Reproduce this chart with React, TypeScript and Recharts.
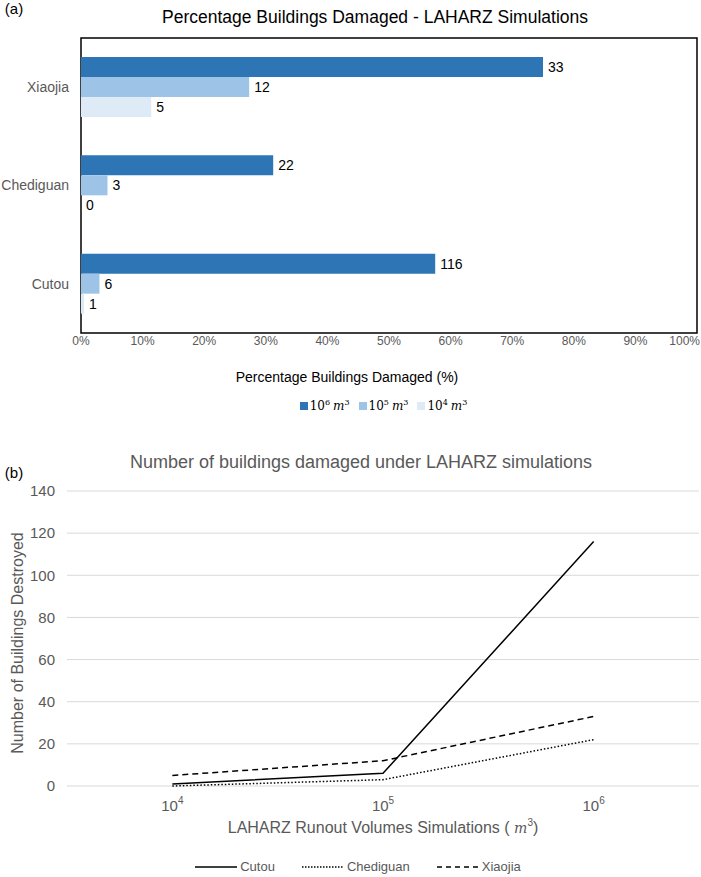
import {
  Bar,
  BarChart,
  CartesianGrid,
  LabelList,
  Legend,
  Line,
  LineChart,
  ReferenceArea,
  XAxis,
  YAxis,
} from "recharts";

// (a) percentage of buildings damaged per site, labels are building counts
const sites = ["Xiaojia", "Chediguan", "Cutou"];
const pct1e6 = [75.0, 31.2, 57.5];
const pct1e5 = [27.3, 4.3, 3.0];
const pct1e4 = [11.4, 0, 0.5];
const count1e6 = [33, 22, 116];
const count1e5 = [12, 3, 6];
const count1e4 = [5, 0, 1];
const pctTicks = [0, 10, 20, 30, 40, 50, 60, 70, 80, 90, 100];

// (b) number of buildings destroyed vs runout volume
const volumes = [1e4, 1e5, 1e6];
const cutou = [1, 6, 116];
const chediguan = [0, 3, 22];
const xiaojia = [5, 12, 33];
const countTicks = [0, 20, 40, 60, 80, 100, 120, 140];

const barRows = sites.map((site, i) => ({
  site,
  v6: pct1e6[i],
  v5: pct1e5[i],
  v4: pct1e4[i],
  n6: String(count1e6[i]),
  n5: String(count1e5[i]),
  n4: String(count1e4[i]),
}));

const lineRows = volumes.map((vol, i) => ({
  vol,
  cutou: cutou[i],
  chediguan: chediguan[i],
  xiaojia: xiaojia[i],
}));

const BLUE_DARK = "#2E75B6";
const BLUE_MID = "#9DC3E6";
const BLUE_LIGHT = "#DEEBF7";
const GREY = "#595959";

const abs = (left: number, top: number, extra: React.CSSProperties = {}): React.CSSProperties => ({
  position: "absolute",
  left,
  top,
  transform: "translate(-50%, -50%)",
  whiteSpace: "nowrap",
  lineHeight: 1,
  ...extra,
});

const volumeItems = [
  { color: BLUE_DARK, exp: "6" },
  { color: BLUE_MID, exp: "5" },
  { color: BLUE_LIGHT, exp: "4" },
];

const BarLegend = () => (
  <div style={{ display: "flex", justifyContent: "center", gap: 9, paddingLeft: 66 }}>
    {volumeItems.map((it) => (
      <span key={it.exp} style={{ display: "flex", alignItems: "center", fontFamily: "DejaVu Serif", fontSize: 12 }}>
        <span style={{ width: 8, height: 8, background: it.color, marginRight: 2, display: "inline-block" }} />
        <span>
          10<sup style={{ fontSize: 8 }}>{it.exp}</sup>
          <i style={{ marginLeft: 3 }}>m</i>
          <sup style={{ fontSize: 8 }}>3</sup>
        </span>
      </span>
    ))}
  </div>
);

const lineItems = [
  { name: "Cutou", dash: undefined },
  { name: "Chediguan", dash: "1.5 1.5" },
  { name: "Xiaojia", dash: "5 4" },
];

const LineLegend = () => (
  <div style={{ display: "flex", justifyContent: "center", gap: 26, paddingLeft: 14 }}>
    {lineItems.map((it) => (
      <span key={it.name} style={{ display: "flex", alignItems: "center", color: GREY, fontSize: 13 }}>
        <svg width={44} height={6} style={{ marginRight: 2 }}>
          <line x1={1} y1={3} x2={43} y2={3} stroke="#000" strokeWidth={1.5} strokeDasharray={it.dash} />
        </svg>
        {it.name}
      </span>
    ))}
  </div>
);

const PctTick = (props: any) => {
  const { x, y, payload } = props;
  const last = payload.value === 100;
  return (
    <text
      x={last ? x + 3 : x}
      y={y + 4}
      textAnchor={last ? "end" : "middle"}
      fill={GREY}
      fontSize={12}
    >
      {`${payload.value}%`}
    </text>
  );
};

const PowerTick = (props: any) => {
  const { x, y, payload } = props;
  const exp = Math.round(Math.log10(payload.value));
  return (
    <text x={x} y={y + 23} textAnchor="middle" fill={GREY} fontSize={15}>
      <tspan>10</tspan>
      <tspan dy={-7} fontSize={10}>
        {exp}
      </tspan>
    </text>
  );
};

export default function App() {
  return (
    <div
      style={{
        position: "relative",
        width: 701,
        height: 877,
        background: "#fff",
        fontFamily: "'Liberation Sans', Arial, sans-serif",
      }}
    >
      <style>{"body{margin:0}"}</style>

      <div style={abs(14, 8, { fontSize: 15 })}>(a)</div>
      <div style={abs(375, 18, { fontSize: 17.5 })}>Percentage Buildings Damaged - LAHARZ Simulations</div>
      <div style={abs(347, 377, { fontSize: 14 })}>Percentage Buildings Damaged (%)</div>

      <div style={{ position: "absolute", left: 0, top: 0 }}>
        <BarChart
          layout="vertical"
          width={701}
          height={400}
          data={barRows}
          margin={{ top: 38, right: 4, left: 0, bottom: 47 }}
          barGap={0}
        >
          <XAxis
            type="number"
            domain={[0, 100]}
            ticks={pctTicks}
            tick={PctTick}
            tickLine={false}
            axisLine={false}
            height={20}
            interval={0}
          />
          <YAxis
            type="category"
            dataKey="site"
            width={81}
            tickLine={false}
            axisLine={false}
            tickMargin={6}
            tick={{ fill: GREY, fontSize: 14 }}
          />
          <Bar dataKey="v6" fill={BLUE_DARK} barSize={20} isAnimationActive={false}>
            <LabelList dataKey="n6" position="right" offset={5} fill="#000" fontSize={14} />
          </Bar>
          <Bar dataKey="v5" fill={BLUE_MID} barSize={20} isAnimationActive={false}>
            <LabelList dataKey="n5" position="right" offset={5} fill="#000" fontSize={14} />
          </Bar>
          <Bar dataKey="v4" fill={BLUE_LIGHT} barSize={20} minPointSize={0.01} isAnimationActive={false}>
            <LabelList dataKey="n4" position="right" offset={5} fill="#000" fontSize={14} />
          </Bar>
          <ReferenceArea x1={0} x2={100} stroke="#000" strokeWidth={1.5} fill="none" fillOpacity={0} />
          <Legend
            layout="horizontal"
            verticalAlign="middle"
            align="center"
            content={BarLegend}
            wrapperStyle={{ top: 398, left: 0, width: 701 }}
          />
        </BarChart>
      </div>

      <div style={abs(14, 472, { fontSize: 15 })}>(b)</div>
      <div style={abs(361, 462, { fontSize: 18, color: GREY })}>
        Number of buildings damaged under LAHARZ simulations
      </div>
      <div style={abs(383, 827, { fontSize: 16, color: GREY })}>
        LAHARZ Runout Volumes Simulations ({" "}
        <i style={{ fontFamily: "DejaVu Serif", fontSize: 14 }}>m</i>
        <sup style={{ fontSize: 10 }}>3</sup>)
      </div>
      <div style={abs(18, 643, { fontSize: 16, color: GREY, transform: "translate(-50%, -50%) rotate(-90deg)" })}>
        Number of Buildings Destroyed
      </div>

      <div style={{ position: "absolute", left: 0, top: 420 }}>
        <LineChart width={701} height={457} data={lineRows} margin={{ top: 71, right: 2, left: 0, bottom: 61 }}>
          <CartesianGrid vertical={false} stroke="#D9D9D9" />
          <XAxis
            type="number"
            dataKey="vol"
            scale="log"
            domain={[Math.pow(10, 3.5), Math.pow(10, 6.5)]}
            allowDataOverflow
            ticks={volumes}
            tick={PowerTick}
            tickLine={false}
            axisLine={false}
            tickSize={0}
            height={30}
            interval={0}
          />
          <YAxis
            domain={[0, 140]}
            ticks={countTicks}
            width={67}
            tickLine={false}
            axisLine={false}
            tickSize={0}
            tickMargin={12}
            tick={{ fill: GREY, fontSize: 15 }}
            interval={0}
          />
          <Line type="linear" dataKey="cutou" stroke="#000" strokeWidth={1.5} dot={false} isAnimationActive={false} />
          <Line
            type="linear"
            dataKey="chediguan"
            stroke="#000"
            strokeWidth={1.5}
            strokeDasharray="1.5 2"
            dot={false}
            isAnimationActive={false}
          />
          <Line
            type="linear"
            dataKey="xiaojia"
            stroke="#000"
            strokeWidth={1.5}
            strokeDasharray="6 4"
            dot={false}
            isAnimationActive={false}
          />
          <Legend
            layout="horizontal"
            verticalAlign="middle"
            align="center"
            content={LineLegend}
            wrapperStyle={{ top: 439, left: 0, width: 701 }}
          />
        </LineChart>
      </div>
    </div>
  );
}
